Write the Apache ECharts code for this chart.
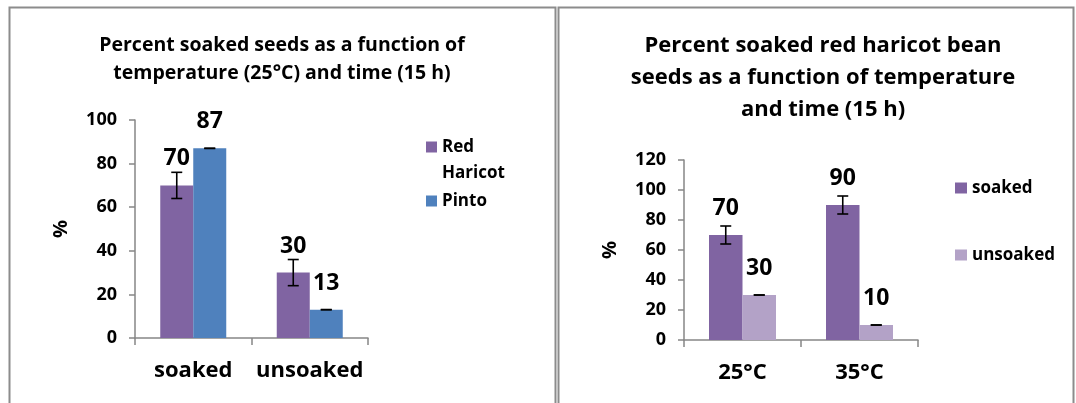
<!DOCTYPE html>
<html>
<head>
<meta charset="utf-8">
<script src="https://cdn.jsdelivr.net/npm/echarts@6/dist/echarts.min.js"></script>
<style>
html, body { margin: 0; padding: 0; background: #fff; }
#chart { width: 1076px; height: 403px; }
</style>
</head>
<body>
<div id="chart"></div>
<script>
// left chart: 25°C, 15 h
var seedStates = ['soaked', 'unsoaked'];
var redHaricot = [70, 30];
var redHaricotErr = [6, 6];
var pinto = [87, 13];
var pintoErr = [0, 0];
var leftTicks = [0, 20, 40, 60, 80, 100];

// right chart: red haricot at two temperatures
var temps = ['25°C', '35°C'];
var soaked = [70, 90];
var soakedErr = [6, 6];
var unsoaked = [30, 10];
var unsoakedErr = [0, 0];
var rightTicks = [0, 20, 40, 60, 80, 100, 120];

var FONT = '"Open Sans"';
var AXIS_GREY = '#868686';

var chart = echarts.init(document.getElementById('chart'));

// whisker drawn at the centre of one of the two side-by-side bars
function errorBar(barW) {
    return function (params, api) {
        var i = api.value(0), v = api.value(1), e = api.value(2), side = api.value(3);
        var hi = api.coord([i, v + e]);
        var lo = api.coord([i, v - e]);
        var x = hi[0] + side * barW / 2;
        var cap = 5.5;
        var st = { stroke: '#000', lineWidth: 1.6 };
        return {
            type: 'group',
            children: [
                { type: 'line', shape: { x1: x, y1: hi[1], x2: x, y2: lo[1] }, style: st },
                { type: 'line', shape: { x1: x - cap, y1: hi[1], x2: x + cap, y2: hi[1] }, style: st },
                { type: 'line', shape: { x1: x - cap, y1: lo[1], x2: x + cap, y2: lo[1] }, style: st }
            ]
        };
    };
}

function errData(vals, errs, side) {
    return vals.map(function (v, i) { return [i, v, errs[i], side]; });
}

function xAxisOpt(cats, gridIndex) {
    return {
        type: 'category',
        gridIndex: gridIndex,
        data: cats,
        axisLine: { lineStyle: { color: AXIS_GREY, width: 1.5 } },
        axisTick: { show: true, length: 7, lineStyle: { color: AXIS_GREY, width: 1.5 } },
        axisLabel: { interval: 0, color: '#000', fontFamily: FONT, fontWeight: 'bold', fontSize: 22, margin: 22 },
        splitLine: { show: false }
    };
}

function yAxisOpt(ticks, gridIndex) {
    return {
        type: 'value',
        gridIndex: gridIndex,
        min: ticks[0],
        max: ticks[ticks.length - 1],
        interval: ticks[1] - ticks[0],
        name: '%',
        nameLocation: 'middle',
        nameRotate: 90,
        nameGap: 64,
        nameTextStyle: { color: '#000', fontFamily: FONT, fontWeight: 'bold', fontSize: 20 },
        axisLine: { show: true, lineStyle: { color: AXIS_GREY, width: 1.5 } },
        axisTick: { show: true, length: 6, lineStyle: { color: AXIS_GREY, width: 1.5 } },
        axisLabel: { color: '#000', fontFamily: FONT, fontWeight: 'bold', fontSize: 18, margin: 18 },
        splitLine: { show: false }
    };
}

var barLabel = {
    show: true,
    position: 'top',
    distance: 15,
    color: '#000',
    fontFamily: FONT,
    fontWeight: 'bold',
    fontSize: 23
};

var legendText = { color: '#000', fontFamily: FONT, fontWeight: 'bold', fontSize: 17, lineHeight: 26 };

var option = {
    animation: false,
    backgroundColor: '#fff',
    title: [{
        text: 'Percent soaked seeds as a function of\ntemperature (25°C) and time (15 h)',
        left: 282,
        top: 31,
        padding: 0,
        textAlign: 'center',
        textStyle: { color: '#000', fontFamily: FONT, fontWeight: 'bold', fontSize: 19.5, lineHeight: 28 }
    }, {
        text: 'Percent soaked red haricot bean\nseeds as a function of temperature\nand time (15 h)',
        left: 823,
        top: 30,
        padding: 0,
        textAlign: 'center',
        textStyle: { color: '#000', fontFamily: FONT, fontWeight: 'bold', fontSize: 22, lineHeight: 32 }
    }],
    legend: [{
        data: ['Red Haricot'],
        left: 426,
        top: 134,
        padding: 0,
        // square in the top of a tall invisible box, so it sits beside the first line
        icon: 'path://M0,0L11,0L11,11L0,11Z M0,37L0,37',
        itemWidth: 11,
        itemHeight: 37,
        formatter: function () { return 'Red\nHaricot'; },
        textStyle: legendText
    }, {
        data: ['Pinto'],
        left: 426,
        top: 188,
        padding: 0,
        icon: 'rect',
        itemWidth: 11,
        itemHeight: 11,
        textStyle: legendText
    }, {
        data: ['soaked', 'unsoaked'],
        orient: 'vertical',
        left: 955,
        top: 175,
        padding: 0,
        itemGap: 41,
        icon: 'rect',
        itemWidth: 12,
        itemHeight: 11,
        textStyle: legendText
    }],
    grid: [
        { left: 135, top: 120, width: 233, height: 218 },
        { left: 684, top: 160, width: 234, height: 180 }
    ],
    xAxis: [xAxisOpt(seedStates, 0), xAxisOpt(temps, 1)],
    yAxis: [yAxisOpt(leftTicks, 0), yAxisOpt(rightTicks, 1)],
    series: [
        { name: 'Red Haricot', type: 'bar', xAxisIndex: 0, yAxisIndex: 0, data: redHaricot,
          barWidth: 33, barGap: '0%', itemStyle: { color: '#8064A2' }, label: barLabel },
        { name: 'Pinto', type: 'bar', xAxisIndex: 0, yAxisIndex: 0, data: pinto,
          barWidth: 33, barGap: '0%', itemStyle: { color: '#4F81BD' }, label: barLabel },
        { type: 'custom', xAxisIndex: 0, yAxisIndex: 0, renderItem: errorBar(33), z: 5,
          data: errData(redHaricot, redHaricotErr, -1).concat(errData(pinto, pintoErr, 1)) },

        { name: 'soaked', type: 'bar', xAxisIndex: 1, yAxisIndex: 1, data: soaked,
          barWidth: 33.5, barGap: '0%', itemStyle: { color: '#8064A2' }, label: barLabel },
        { name: 'unsoaked', type: 'bar', xAxisIndex: 1, yAxisIndex: 1, data: unsoaked,
          barWidth: 33.5, barGap: '0%', itemStyle: { color: '#B3A2C7' }, label: barLabel },
        { type: 'custom', xAxisIndex: 1, yAxisIndex: 1, renderItem: errorBar(33.5), z: 5,
          data: errData(soaked, soakedErr, -1).concat(errData(unsoaked, unsoakedErr, 1)) }
    ],
    graphic: [
        { type: 'rect', shape: { x: 9.5, y: 7.5, width: 546, height: 420 },
          style: { fill: 'none', stroke: '#8c8c8c', lineWidth: 2 }, silent: true },
        { type: 'rect', shape: { x: 558.5, y: 7.5, width: 515, height: 420 },
          style: { fill: 'none', stroke: '#8c8c8c', lineWidth: 2 }, silent: true }
    ]
};

chart.setOption(option);
</script>
</body>
</html>
